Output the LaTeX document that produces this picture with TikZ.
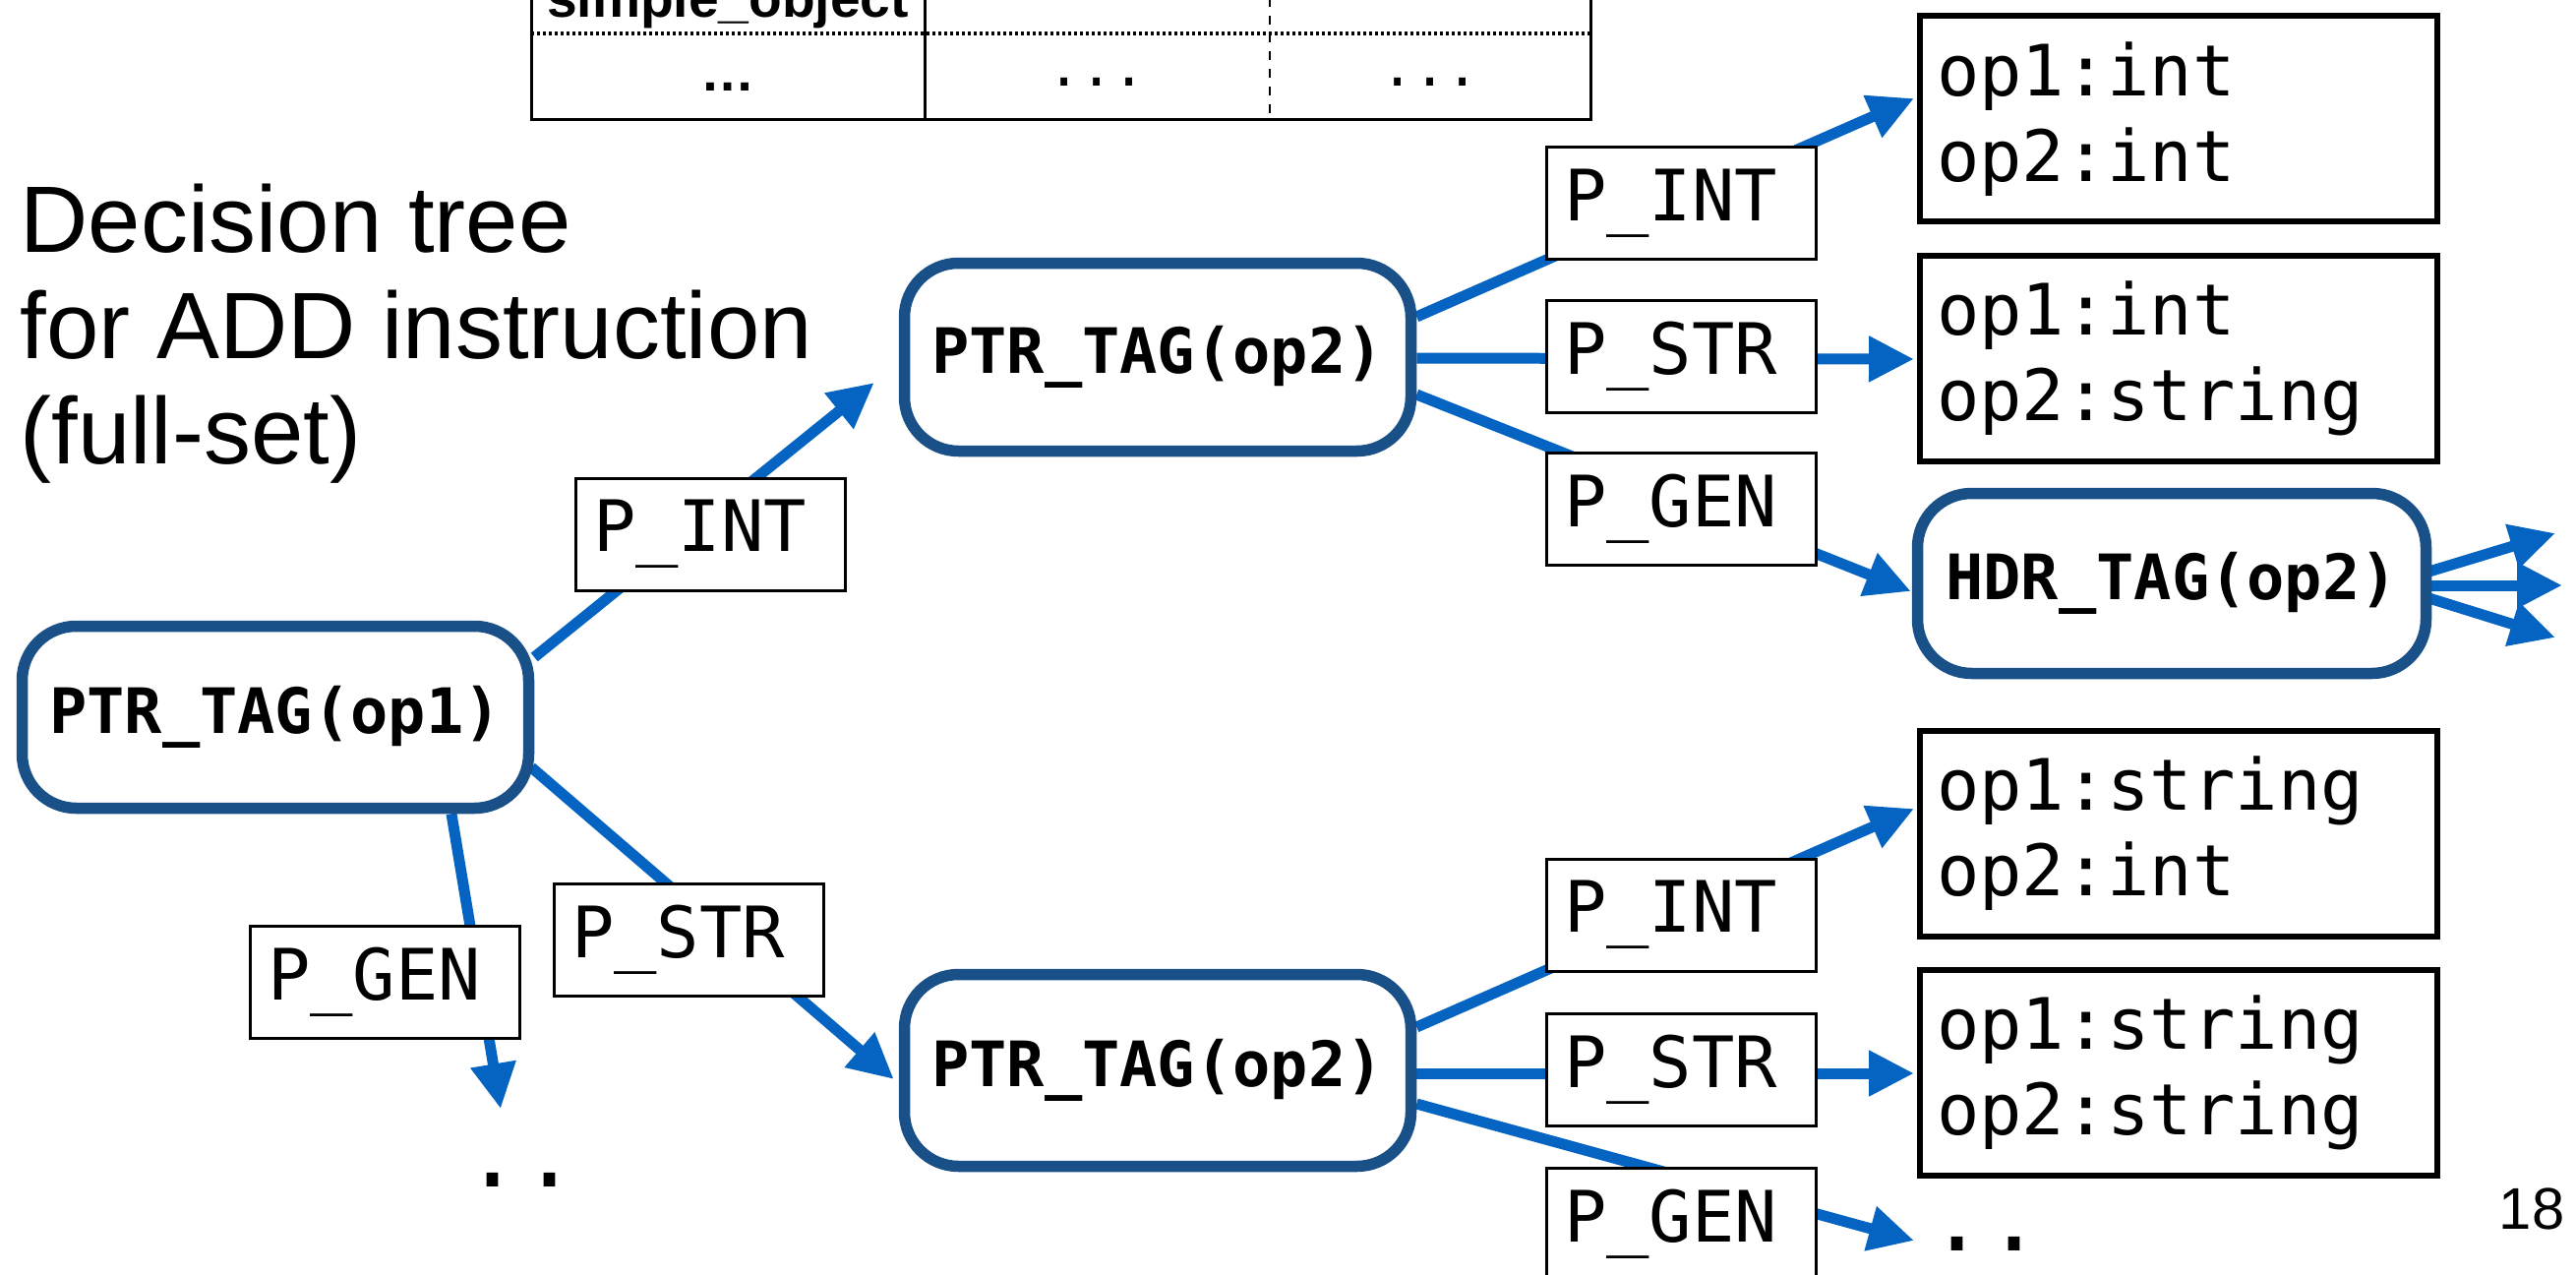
\documentclass[tikz,border=0pt]{standalone}
\usepackage{fontspec}
\setmainfont{Liberation Sans}
\newfontfamily\monof{DejaVu Sans Mono}
\usetikzlibrary{arrows.meta,calc}
\pgfdeclarelayer{edges}
\pgfsetlayers{edges,main}
\definecolor{nodeblue}{RGB}{26,80,136}
\definecolor{arrblue}{RGB}{5,99,193}
\tikzset{
  decision/.style={draw=nodeblue, line width=1.15mm, rounded corners=5.5mm, fill=white,
    minimum width=51.5mm, minimum height=18.5mm, inner sep=0pt,
    font=\monof\bfseries\fontsize{18.1pt}{21pt}\selectfont},
  result/.style={draw=black, line width=0.6mm, fill=white, minimum width=52.6mm,
    minimum height=20.9mm, text width=49.2mm, inner xsep=1.7mm, inner ysep=0pt, align=left,
    font=\monof\fontsize{20.5pt}{24.7pt}\selectfont},
  lbl/.style={draw=black, line width=0.3mm, fill=white, minimum height=11.4mm,
    text width=23.8mm, inner xsep=1.8mm, inner ysep=0pt, align=left,
    font=\monof\fontsize{20.5pt}{24.7pt}\selectfont},
  arr/.style={draw=arrblue, line width=1.1mm, -{Triangle[length=4.6mm,width=4.4mm]}},
  title/.style={anchor=base west, inner sep=0pt, font=\fontsize{27.3pt}{30.7pt}\selectfont},
  dotsnode/.style={anchor=base, inner sep=0pt, font=\monof\fontsize{27pt}{30pt}\selectfont},
  tabtext/.style={anchor=base, inner sep=0pt},
}
\begin{document}
\begin{tikzpicture}[x=0.1mm,y=-0.1mm]
\useasboundingbox (0,0) rectangle (2619,1295);
\clip (0,0) rectangle (2619,1295);
% table (cut off at the top)
\draw[line width=0.3mm] (540,-20) -- (540,122) -- (1617,122) -- (1617,-20);
\draw[line width=0.3mm] (940,-20) -- (940,122);
\draw[line width=0.25mm, dash pattern=on 0.9mm off 0.9mm] (1291,-20) -- (1291,122);
\draw[line width=0.35mm, dash pattern=on 0.3mm off 0.3mm] (540,34) -- (1617,34);
\node[tabtext, font=\bfseries\fontsize{15.7pt}{18pt}\selectfont] (so) at (740,18) {simple\_object};
\node[tabtext, font=\bfseries\fontsize{15.7pt}{18pt}\selectfont] (e1) at (740,93) {…};
\node[tabtext, font=\monof\fontsize{15.7pt}{18pt}\selectfont] (e2) at (1115,88) {...};
\node[tabtext, font=\monof\fontsize{15.7pt}{18pt}\selectfont] (e3) at (1454,88) {...};
% title
\node[title] (t1) at (20,257) {Decision tree};
\node[title] (t2) at (20,364) {for ADD instruction};
\node[title] (t3) at (20,471) {(full-set)};
% decision nodes
\node[decision] (op1) at (280,729) {PTR\_TAG(op1)};
\node[decision, minimum height=19.1mm] (op2a) at (1177,363) {PTR\_TAG(op2)};
\node[decision, minimum height=19.5mm] (op2b) at (1177,1088) {PTR\_TAG(op2)};
\node[decision, minimum width=51.7mm, minimum height=18.3mm] (hdr) at (2208,593) {HDR\_TAG(op2)};
% results
\node[result] (r1) at (2215,121) {op1:int\\op2:int};
\node[result] (r2) at (2215,364) {op1:int\\op2:string};
\node[result] (r3) at (2215,847) {op1:string\\op2:int};
\node[result] (r4) at (2215,1090) {op1:string\\op2:string};
% labels
\node[lbl] (li1) at (722,543) {P\_INT};
\node[lbl] (ls1) at (700,955) {P\_STR};
\node[lbl] (lg1) at (391,998) {P\_GEN};
\node[lbl] (li2) at (1709,207) {P\_INT};
\node[lbl] (ls2) at (1709,362) {P\_STR};
\node[lbl] (lg2) at (1709,517) {P\_GEN};
\node[lbl] (li3) at (1709,930) {P\_INT};
\node[lbl] (ls3) at (1709,1087) {P\_STR};
\node[lbl] (lg3) at (1709,1244) {P\_GEN};
% continuation dots
\node[dotsnode] (dd1) at (530,1206) {..};
\node[dotsnode] (dd2) at (2019,1271) {..};
% page number
\node[anchor=base east, inner sep=0pt, font=\fontsize{17pt}{20pt}\selectfont] (pg) at (2608,1249) {18};
% free ends of the HDR arrows
\coordinate (h1) at (2598,542);
\coordinate (h2) at (2605,595);
\coordinate (h3) at (2598,648);
\begin{pgfonlayer}{edges}
\draw[arr] ($(op1.east)+(0,-61)$) -- ($(op2a.west)+(-25,26)$);
\draw[arr] ($(op1.east)+(-3,51)$) -- ($(op2b.west)+(-5,9)$);
\draw[arr] ($(op1.south)+(179,0)$) -- ($(dd1.base)+(-21,-79)$);
\draw[arr] ($(op2a.east)+(0,-41)$) -- ($(r1.west)+(-3,-21)$);
\draw[arr] ($(op2a.east)+(0,1)$) -- ($(r2.west)+(-3,1)$);
\draw[arr] ($(op2a.east)+(0,38)$) -- ($(hdr.west)+(-1,8)$);
\draw[arr] ($(op2b.east)+(0,-44)$) -- ($(r3.west)+(-3,-25)$);
\draw[arr] ($(op2b.east)+(0,3)$) -- ($(r4.west)+(-3,1)$);
\draw[arr] ($(op2b.east)+(0,34)$) -- ($(dd2.base)+(-73,-10)$);
\draw[arr] ($(hdr.east)+(-6,-11)$) -- (h1);
\draw[arr] ($(hdr.east)+(-6,2)$) -- (h2);
\draw[arr] ($(hdr.east)+(-6,14)$) -- (h3);
\end{pgfonlayer}
\end{tikzpicture}
\end{document}
